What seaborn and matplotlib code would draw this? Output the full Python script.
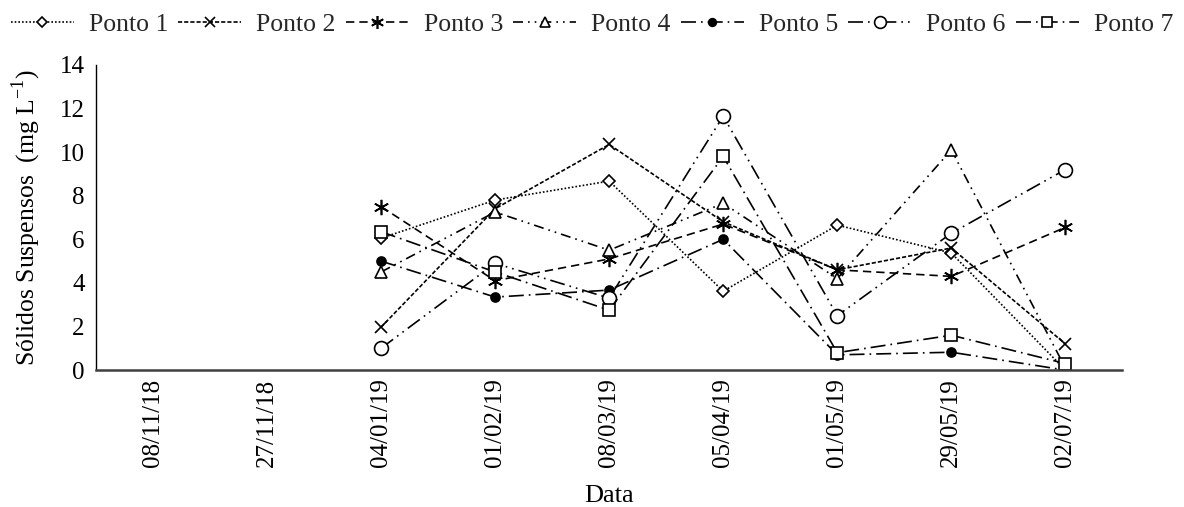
import numpy as np
import pandas as pd
import matplotlib
matplotlib.use("Agg")
import matplotlib.pyplot as plt
import seaborn as sns

# Sampling dates (x categories)
datas = ["08/11/18", "27/11/18", "04/01/19", "01/02/19", "08/03/19",
         "05/04/19", "01/05/19", "29/05/19", "02/07/19"]

# Suspended solids (mg/L) per sampling point; first two dates without data
ponto1 = [np.nan, np.nan, 6.05, 7.8, 8.67, 3.62, 6.65, 5.37, 0.0]
ponto2 = [np.nan, np.nan, 1.97, 7.4, 10.35, 6.8, 4.6, 5.6, 1.2]
ponto3 = [np.nan, np.nan, 7.5, 4.1, 5.1, 6.7, 4.6, 4.3, 6.55]
ponto4 = [np.nan, np.nan, 4.5, 7.25, 5.5, 7.65, 4.2, 10.1, 0.1]
ponto5 = [np.nan, np.nan, 5.0, 3.35, 3.67, 6.0, 0.7, 0.82, 0.0]
ponto6 = [np.nan, np.nan, 1.0, 4.9, 3.3, 11.65, 2.5, 6.28, 9.2]
ponto7 = [np.nan, np.nan, 6.35, 4.5, 2.75, 9.8, 0.8, 1.6, 0.3]

series = {
    "Ponto 1": ponto1, "Ponto 2": ponto2, "Ponto 3": ponto3, "Ponto 4": ponto4,
    "Ponto 5": ponto5, "Ponto 6": ponto6, "Ponto 7": ponto7,
}

# Marker / line styles for each point
estilos = {
    "Ponto 1": dict(marker="D", ms=6.5, mfc="white", ls=(0, (1, 1.2))),
    "Ponto 2": dict(marker="x", ms=9, mfc="white", ls=(0, (2.5, 1.2))),
    "Ponto 3": dict(marker=(6, 2, 0), ms=11, mfc="white", ls=(0, (5, 3))),
    "Ponto 4": dict(marker="^", ms=9, mfc="white", ls=(0, (6, 3, 1, 3, 1, 3))),
    "Ponto 5": dict(marker="o", ms=6.5, mfc="black", ls=(0, (9, 3, 1, 3))),
    "Ponto 6": dict(marker="o", ms=10, mfc="white", ls=(0, (9, 3, 1, 3, 1, 3))),
    "Ponto 7": dict(marker="s", ms=9, mfc="white", ls=(0, (9, 3, 1, 3))),
}

FS = 18

sns.set_theme(style="white")
plt.rcParams["font.family"] = ["Liberation Serif", "DejaVu Serif"]
plt.rcParams["mathtext.fontset"] = "custom"
plt.rcParams["mathtext.rm"] = "Liberation Serif"

fig = plt.figure(figsize=(11.84, 5.07), dpi=100)
ax = fig.add_axes([0.081, 0.27, 0.867, 0.602])

pos = np.arange(len(datas))
for nome, valores in series.items():
    st = estilos[nome]
    sns.lineplot(x=pos, y=valores, ax=ax, color="black", label=nome,
                 marker=st["marker"], markersize=st["ms"],
                 markerfacecolor=st["mfc"], markeredgecolor="black",
                 markeredgewidth=1.2, linestyle=st["ls"], linewidth=1.2)

ax.set_xlim(-0.5, len(datas) - 0.5)
ax.set_ylim(0, 14)
ax.set_yticks(np.arange(0, 15, 2))
ax.set_xticks(pos)
ax.set_xticklabels(datas, rotation=90)
ax.tick_params(axis="both", length=0, labelsize=FS, colors="black", pad=8)
ax.tick_params(axis="x", pad=6)

for s in ["top", "right"]:
    ax.spines[s].set_visible(False)
ax.spines["left"].set_color("black")
ax.spines["left"].set_linewidth(1.0)
ax.spines["bottom"].set_color("#404040")
ax.spines["bottom"].set_linewidth(1.8)

ax.set_xlabel("Data", fontsize=19, color="black", labelpad=13)
ax.set_ylabel("Sólidos Suspensos  (mg L$^{-1}$)", fontsize=18.5, color="black",
              labelpad=12)

handles, labels = ax.get_legend_handles_labels()
ax.get_legend().remove()
fig.legend(handles, labels, loc="upper center", bbox_to_anchor=(0.5, 1.02),
           ncol=7, frameon=False, fontsize=18.5, handlelength=2.45,
           handletextpad=0.58, columnspacing=0.4, markerscale=0.85)

fig.savefig("out.png", dpi=100, facecolor="white")
